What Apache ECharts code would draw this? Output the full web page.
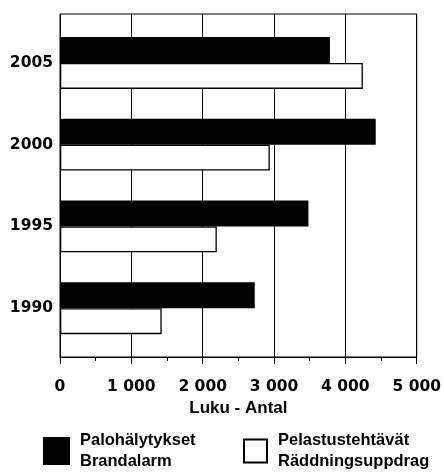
<!DOCTYPE html>
<html>
<head>
<meta charset="utf-8">
<script src="https://cdn.jsdelivr.net/npm/echarts@6/dist/echarts.min.js"></script>
<style>
  html, body { margin: 0; padding: 0; background: #fff; }
  #chart { width: 444px; height: 473px; }
</style>
</head>
<body>
<div id="chart"></div>
<script>
// Yearly counts, bottom to top on the category axis
const years = ['1990', '1995', '2000', '2005'];
const alarmCounts = [2720, 3470, 4410, 3770];   // Palohälytykset / Brandalarm
const rescueCounts = [1420, 2190, 2930, 4230];  // Pelastustehtävät / Räddningsuppdrag

// Value axis ticks and their printed labels
const xTickValues = [0, 1000, 2000, 3000, 4000, 5000];
const xTickLabels = ['0', '1 000', '2 000', '3 000', '4 000', '5 000'];

const alarmName = 'Palohälytykset\nBrandalarm';
const rescueName = 'Pelastustehtävät\nRäddningsuppdrag';
const axisTitle = 'Luku - Antal';

const axisFont = { fontFamily: 'DejaVu Sans', fontWeight: 'bold', fontSize: 15.5, color: '#000' };
const legendFont = { fontFamily: 'Liberation Sans', fontWeight: 'bold', fontSize: 16.5, color: '#000', lineHeight: 21 };

const chart = echarts.init(document.getElementById('chart'), null, { renderer: 'canvas' });

chart.setOption({
  backgroundColor: '#fff',
  animation: false,
  grid: [
    // frame, grid lines and value axis
    { left: 60, right: 26, top: 14, bottom: 116, show: true, borderColor: '#000', borderWidth: 1, backgroundColor: 'transparent' },
    // bar area (inset a little from the frame)
    { left: 60, right: 26, top: 22, bottom: 124 }
  ],
  xAxis: [
    {
      gridIndex: 0, type: 'value', min: xTickValues[0], max: xTickValues[xTickValues.length - 1], interval: 1000,
      axisLine: { show: true, lineStyle: { color: '#000', width: 1 } },
      axisTick: { show: true, inside: false, length: 7, lineStyle: { color: '#000', width: 1 } },
      minorTick: { show: true, splitNumber: 2, length: 4, lineStyle: { color: '#000', width: 1 } },
      splitLine: { show: true, lineStyle: { color: '#000', width: 1 } },
      axisLabel: Object.assign({
        margin: 22,
        formatter: v => { const i = xTickValues.indexOf(v); return i >= 0 ? xTickLabels[i] : ''; }
      }, axisFont),
      name: axisTitle, nameLocation: 'middle', nameGap: 36,
      nameTextStyle: { fontFamily: 'Liberation Sans', fontWeight: 'bold', fontSize: 17, color: '#000' }
    },
    {
      gridIndex: 1, type: 'value', min: xTickValues[0], max: xTickValues[xTickValues.length - 1], show: false
    }
  ],
  yAxis: [
    { gridIndex: 0, type: 'value', show: false, splitLine: { show: false } },
    {
      gridIndex: 1, type: 'category', data: years,
      axisLine: { show: false }, axisTick: { show: false },
      axisLabel: Object.assign({ margin: 7, padding: [4, 0, 0, 0] }, axisFont)
    }
  ],
  legend: [
    {
      data: [alarmName], left: 43, top: 430, padding: 0,
      icon: 'rect', itemWidth: 27, itemHeight: 28,
      textStyle: Object.assign({ padding: [0, 0, 0, 5] }, legendFont),
      selectedMode: false
    },
    {
      data: [rescueName], left: 243, top: 430, padding: 0,
      icon: 'rect', itemWidth: 23, itemHeight: 23,
      itemStyle: { borderColor: '#000', borderWidth: 2, color: '#fff' },
      textStyle: Object.assign({ padding: [0, 0, 0, 6] }, legendFont),
      selectedMode: false
    }
  ],
  series: [
    {
      name: alarmName, type: 'bar', xAxisIndex: 1, yAxisIndex: 1,
      data: alarmCounts, barWidth: 26, barGap: '0%', barCategoryGap: '36%',
      itemStyle: { color: '#000', borderColor: '#000', borderWidth: 0 }
    },
    {
      name: rescueName, type: 'bar', xAxisIndex: 1, yAxisIndex: 1,
      data: rescueCounts, barWidth: 26, barGap: '0%',
      itemStyle: { color: '#fff', borderColor: '#000', borderWidth: 1.3 }
    }
  ]
});
</script>
</body>
</html>
